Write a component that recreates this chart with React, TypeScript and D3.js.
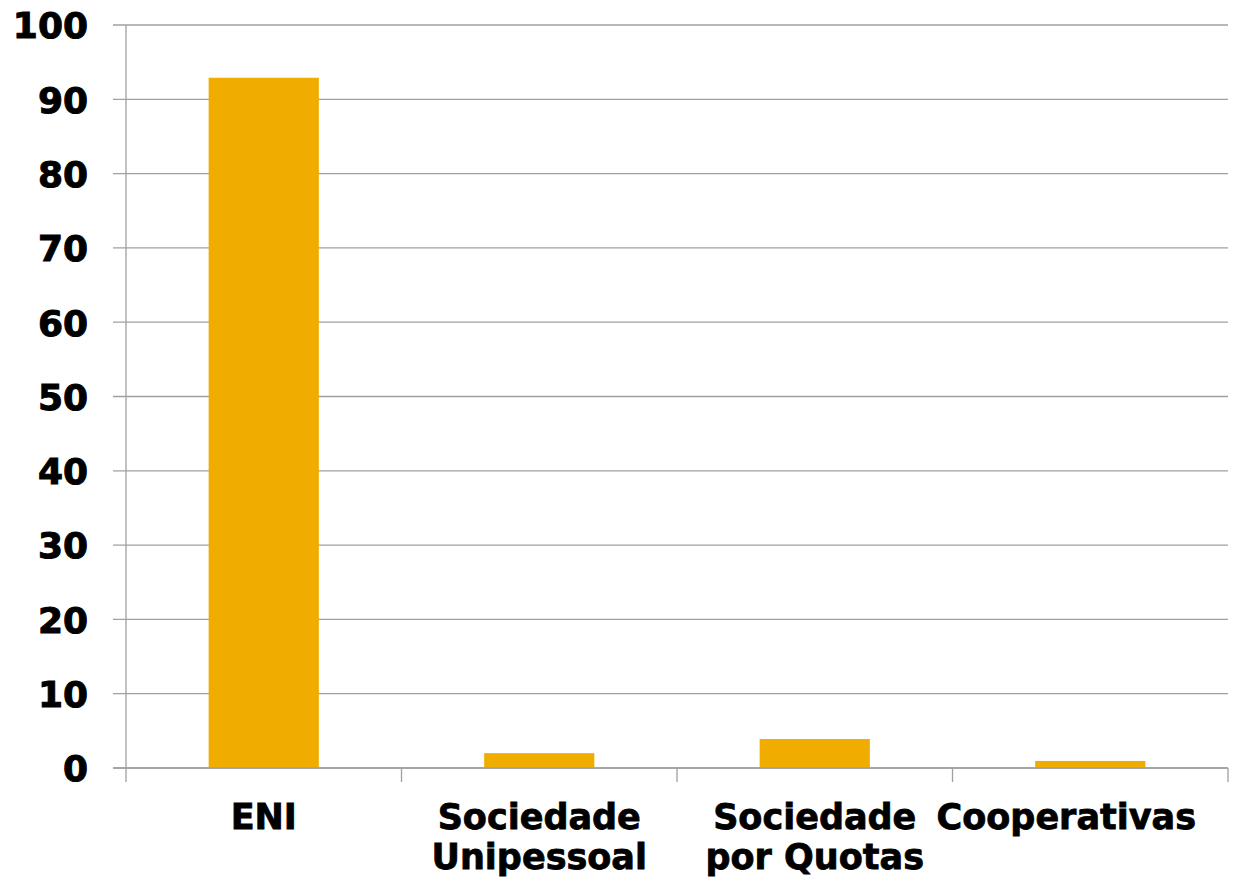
import React from "react";
import * as d3 from "d3";

const categories = ["ENI", "Sociedade Unipessoal", "Sociedade por Quotas", "Cooperativas"];
const categoryLines = [["ENI"], ["Sociedade", "Unipessoal"], ["Sociedade", "por Quotas"], ["Cooperativas"]];
const values = [92.9, 2.0, 3.9, 0.95];
const yTicks = [0, 10, 20, 30, 40, 50, 60, 70, 80, 90, 100];

const W = 1234;
const H = 882;
const left = 126;
const right = 1228;
const top = 25;
const bottom = 768;
const font = "'DejaVu Sans', Verdana, sans-serif";

export default function App() {
  const x = d3.scaleBand<string>().domain(categories).range([left, right]).paddingInner(0.6).paddingOuter(0.3);
  const xb = d3.scaleBand<string>().domain(categories).range([left, right]);
  const y = d3.scaleLinear().domain([0, 100]).range([bottom, top]);
  const grid = "#a0a0a0";
  return (
    <svg width={W} height={H} style={{ position: "absolute", left: 0, top: 0, background: "#fff" }}>
      {yTicks.map((t) => (
        <g key={t}>
          <line x1={113} x2={right} y1={y(t)} y2={y(t)} stroke={grid} strokeWidth={1.3} />
          <text x={88} y={y(t)} dy="0.37em" textAnchor="end" fontFamily={font} fontWeight="bold" fontSize={36} fill="#000" stroke="#000" strokeWidth={1}>
            {t}
          </text>
        </g>
      ))}
      <line x1={left} x2={left} y1={top} y2={782} stroke={grid} strokeWidth={1.3} />
      {categories.map((c) => (
        <line key={c} x1={(xb(c) as number) + xb.bandwidth()} x2={(xb(c) as number) + xb.bandwidth()} y1={bottom} y2={782} stroke={grid} strokeWidth={1.3} />
      ))}
      {categories.map((c, i) => (
        <rect key={c} x={x(c)} y={y(values[i])} width={x.bandwidth()} height={bottom - y(values[i])} fill="#F0AD00" />
      ))}
      <line x1={113} x2={right} y1={bottom} y2={bottom} stroke={grid} strokeWidth={1.3} />
      {categories.map((c, i) => {
        const last = i === categories.length - 1;
        const cx = (xb(c) as number) + xb.bandwidth() / 2;
        return (
          <text key={c} textAnchor={last ? "end" : "middle"} fontFamily={font} fontWeight="bold" fontSize={35} fill="#000" stroke="#000" strokeWidth={0.8}>
            {categoryLines[i].map((l, j) => (
              <tspan key={j} x={last ? W - 38 : cx} y={829 + j * 40}>
                {l}
              </tspan>
            ))}
          </text>
        );
      })}
    </svg>
  );
}
